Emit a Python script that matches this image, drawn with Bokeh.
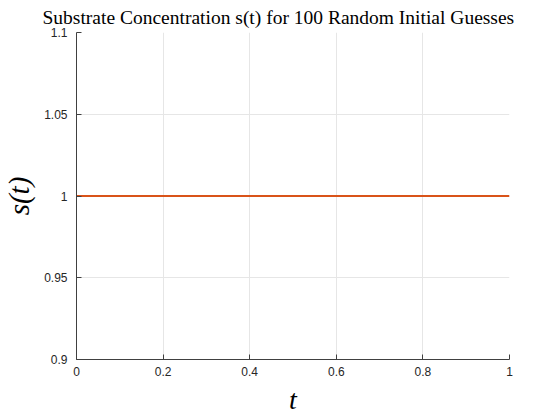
from bokeh.plotting import figure
from bokeh.models import FixedTicker, Range1d
from bokeh.embed import file_html
from bokeh.resources import INLINE

# Data
t_vals = [0.0, 0.2, 0.4, 0.6, 0.8, 1.0]
s_vals = [1.0, 1.0, 1.0, 1.0, 1.0, 1.0]
x_ticks = [0, 0.2, 0.4, 0.6, 0.8, 1]
x_tick_labels = ["0", "0.2", "0.4", "0.6", "0.8", "1"]
y_ticks = [0.9, 0.95, 1.0, 1.05, 1.1]
y_tick_labels = ["0.9", "0.95", "1", "1.05", "1.1"]
title_text = "Substrate Concentration s(t) for 100 Random Initial Guesses"
x_label = "t"
y_label = "s(t)"

p = figure(width=550, height=420, output_backend="svg", toolbar_location=None,
           x_range=Range1d(0, 1), y_range=Range1d(0.9, 1.1),
           min_border_left=76, min_border_right=41, min_border_top=30, min_border_bottom=61)
p.outline_line_color = None
p.background_fill_color = "white"

p.line(t_vals, s_vals, line_color="#D95319", line_width=2)

for ax, ticks, labels in ((p.xaxis[0], x_ticks, x_tick_labels), (p.yaxis[0], y_ticks, y_tick_labels)):
    ax.ticker = FixedTicker(ticks=ticks)
    ax.major_label_overrides = {t: l for t, l in zip(ticks, labels)}
    ax.minor_tick_line_color = None
    ax.major_tick_in = 5
    ax.major_tick_out = 0
    ax.axis_line_color = "#404040"
    ax.major_tick_line_color = "#404040"
    ax.major_label_text_color = "#262626"
    ax.major_label_text_font = "Liberation Sans"
    ax.major_label_text_font_size = "12px"

p.xaxis.major_label_standoff = 7
p.yaxis.major_label_standoff = 9

p.xgrid.grid_line_color = "#e6e6e6"
p.ygrid.grid_line_color = "#e6e6e6"

p.xaxis.axis_label = x_label
p.xaxis.axis_label_text_font = "Liberation Serif"
p.xaxis.axis_label_text_font_style = "italic"
p.xaxis.axis_label_text_font_size = "28px"
p.xaxis.axis_label_text_color = "#000000"
p.xaxis.axis_label_standoff = 5

p.yaxis.axis_label = y_label
p.yaxis.axis_label_text_font = "Liberation Serif"
p.yaxis.axis_label_text_font_style = "italic"
p.yaxis.axis_label_text_font_size = "29px"
p.yaxis.axis_label_text_color = "#000000"
p.yaxis.axis_label_standoff = 6

p.title.text = title_text
p.title.text_font = "Liberation Serif"
p.title.text_font_style = "normal"
p.title.text_font_size = "19.5px"
p.title.align = "left"
p.title.offset = -34
p.title.standoff = 9
p.title.text_line_height = 0.85
p.title.text_color = "#000000"

open("out.html", "w").write(file_html(p, INLINE))
